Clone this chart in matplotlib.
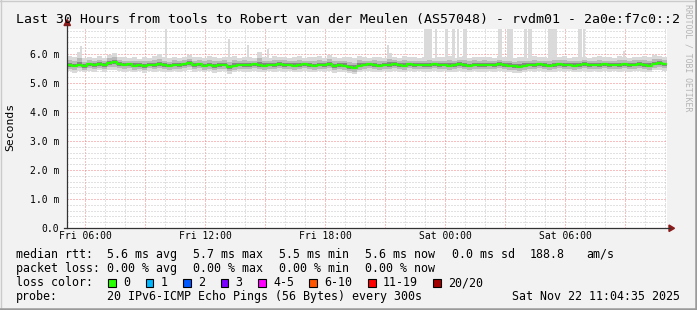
import numpy as np
import pandas as pd
import matplotlib
matplotlib.use("Agg")
import matplotlib.pyplot as plt
import matplotlib.dates as mdates
from matplotlib.ticker import MultipleLocator, FuncFormatter
from matplotlib.lines import Line2D
from matplotlib.patches import Rectangle, Polygon

plt.rcParams['font.family'] = ['DejaVu Sans Mono']
plt.rcParams['lines.scale_dashes'] = False

# ---------------------------------------------------------------
# data (values in ms, one value per 15 minutes over 30 hours)
# ---------------------------------------------------------------
end_time = pd.Timestamp("2025-11-22 11:04:35")
start_time = end_time - pd.Timedelta(hours=30)

median = [
    5.62, 5.60, 5.63, 5.58, 5.64, 5.62, 5.65, 5.61, 5.70, 5.72, 5.66, 5.63,
    5.64, 5.60, 5.62, 5.59, 5.63, 5.61, 5.64, 5.62, 5.60, 5.63, 5.61, 5.64,
    5.68, 5.62, 5.64, 5.60, 5.63, 5.58, 5.61, 5.63, 5.55, 5.60, 5.63, 5.62,
    5.61, 5.64, 5.62, 5.60, 5.63, 5.62, 5.65, 5.61, 5.63, 5.60, 5.62, 5.64,
    5.62, 5.60, 5.63, 5.61, 5.64, 5.58, 5.62, 5.60, 5.55, 5.52, 5.60, 5.63,
    5.64, 5.62, 5.60, 5.63, 5.61, 5.65, 5.62, 5.60, 5.64, 5.62, 5.63, 5.61,
    5.62, 5.64, 5.61, 5.63, 5.60, 5.62, 5.65, 5.62, 5.60, 5.63, 5.61, 5.62,
    5.63, 5.61, 5.64, 5.62, 5.60, 5.58, 5.56, 5.60, 5.63, 5.61, 5.64, 5.62,
    5.60, 5.62, 5.64, 5.61, 5.63, 5.60, 5.62, 5.64, 5.61, 5.63, 5.62, 5.64,
    5.62, 5.63, 5.61, 5.64, 5.62, 5.63, 5.65, 5.62, 5.60, 5.66, 5.68, 5.64,
]

ping_hi = [
    5.92, 5.88, 6.05, 5.85, 5.90, 5.87, 5.93, 5.86, 5.98, 6.02, 5.91, 5.88,
    5.86, 5.90, 5.84, 5.89, 5.87, 5.92, 6.00, 5.88, 5.85, 5.91, 5.87, 5.89,
    5.95, 5.88, 5.90, 5.86, 5.92, 5.89, 5.87, 5.90, 5.88, 5.94, 5.86, 5.91,
    5.89, 5.87, 6.08, 5.90, 5.86, 5.92, 5.88, 5.91, 5.87, 5.89, 5.93, 5.86,
    5.90, 5.88, 5.92, 5.87, 5.95, 5.89, 5.86, 5.90, 5.88, 5.85, 5.92, 5.89,
    5.87, 5.91, 5.88, 5.86, 6.02, 5.90, 5.87, 5.92, 5.88, 5.90, 5.86, 5.89,
    5.91, 5.87, 5.90, 5.88, 5.93, 5.86, 5.89, 5.92, 5.87, 5.90, 5.88, 5.91,
    5.89, 5.86, 5.92, 5.88, 5.90, 5.87, 5.91, 5.89, 5.86, 5.93, 5.88, 5.90,
    5.87, 5.91, 5.89, 5.92, 5.86, 5.90, 5.88, 5.91, 5.87, 5.89, 5.92, 5.88,
    5.90, 5.87, 5.93, 5.89, 5.86, 5.91, 5.88, 5.94, 5.90, 5.96, 5.92, 5.89,
]

ping_lo = [
    5.40, 5.36, 5.42, 5.38, 5.41, 5.39, 5.43, 5.37, 5.44, 5.46, 5.40, 5.38,
    5.41, 5.37, 5.40, 5.36, 5.42, 5.39, 5.41, 5.38, 5.37, 5.40, 5.38, 5.42,
    5.44, 5.39, 5.41, 5.37, 5.40, 5.35, 5.38, 5.41, 5.32, 5.37, 5.40, 5.39,
    5.38, 5.41, 5.39, 5.37, 5.40, 5.39, 5.42, 5.38, 5.40, 5.37, 5.39, 5.41,
    5.39, 5.37, 5.40, 5.38, 5.41, 5.35, 5.39, 5.37, 5.33, 5.30, 5.37, 5.40,
    5.41, 5.39, 5.37, 5.40, 5.38, 5.42, 5.39, 5.37, 5.41, 5.39, 5.40, 5.38,
    5.39, 5.41, 5.38, 5.40, 5.37, 5.39, 5.42, 5.39, 5.37, 5.40, 5.38, 5.39,
    5.40, 5.38, 5.41, 5.39, 5.37, 5.35, 5.34, 5.37, 5.40, 5.38, 5.41, 5.39,
    5.37, 5.39, 5.41, 5.38, 5.40, 5.37, 5.39, 5.41, 5.38, 5.40, 5.39, 5.41,
    5.39, 5.40, 5.38, 5.41, 5.39, 5.40, 5.42, 5.39, 5.37, 5.43, 5.45, 5.41,
]

# occasional slow pings (hours after start, duration in hours, max in ms)
spike_start = [0.65, 4.9, 8.05, 9.0, 10.0, 16.0, 17.85, 18.4, 18.9, 19.25, 19.5,
               19.8, 21.55, 22.0, 22.85, 23.05, 24.05, 25.55, 25.8, 27.8]
spike_len = [0.1, 0.1, 0.1, 0.08, 0.08, 0.1, 0.4, 0.1, 0.15, 0.15, 0.1,
             0.2, 0.2, 0.3, 0.15, 0.2, 0.45, 0.2, 0.1, 0.1]
spike_max = [6.29, 7.5, 6.53, 6.32, 6.18, 6.3, 7.5, 7.5, 7.5, 7.5, 7.5,
             7.5, 7.5, 7.5, 7.5, 7.5, 7.5, 7.5, 7.5, 6.1]

rtt_stats = [("avg", 5.6), ("max", 5.7), ("min", 5.5), ("now", 5.6)]
rtt_sd = 0.0
rtt_ams = 188.8
loss_stats = [("avg", 0.0), ("max", 0.0), ("min", 0.0), ("now", 0.0)]

loss_labels = ["0", "1", "2", "3", "4-5", "6-10", "11-19", "20/20"]
loss_colors = ["#26ff00", "#00b8ff", "#0059ff", "#7a00ff",
               "#ff00ff", "#ff5500", "#ff0000", "#a10000"]

title = "Last 30 Hours from tools to Robert van der Meulen (AS57048) - rvdm01 - 2a0e:f7c0::2"
probe = "20 IPv6-ICMP Echo Pings (56 Bytes) every 300s"
stamp = "Sat Nov 22 11:04:35 2025"

# ---------------------------------------------------------------
W, H = 697, 310
fig = plt.figure(figsize=(W / 100, H / 100), dpi=100, facecolor="#f2f2f2")


def fx(x):
    return x / W


def fy(y):
    return 1 - y / H


ax = fig.add_axes([fx(67), fy(228), 600 / W, 199 / H])
ax.set_facecolor("white")
for s in ax.spines.values():
    s.set_visible(False)

times = pd.date_range(start_time, periods=len(median) + 1, freq="15min")
med = np.append(median, median[-1])
hi = np.append(ping_hi, ping_hi[-1])
lo = np.append(ping_lo, ping_lo[-1])

# slow ping bars
sp_x = [start_time + pd.Timedelta(hours=h) for h in spike_start]
sp_w = [l / 24 for l in spike_len]
ax.bar(sp_x, np.array(spike_max) - 5.8, width=sp_w, bottom=5.8, align="edge",
       color="#dadada", linewidth=0, zorder=2)

# smoke
ax.fill_between(times, lo, hi, step="post", color="#d9d9d9", lw=0, zorder=3)
ax.fill_between(times, med - 0.6 * (med - lo), med + 0.55 * (hi - med), step="post",
                color="#b8b8b8", lw=0, zorder=3)
ax.fill_between(times, med - 0.25 * (med - lo), med + 0.25 * (hi - med), step="post",
                color="#858585", lw=0, zorder=3)
ax.plot(times, med, drawstyle="steps-post", color="#26ff00", lw=1.6, zorder=4)

ax.set_xlim(start_time, end_time)
ax.set_ylim(0, 6.86)

ax.yaxis.set_major_locator(MultipleLocator(1.0))
ax.yaxis.set_minor_locator(MultipleLocator(0.2))
ax.yaxis.set_major_formatter(FuncFormatter(lambda v, p: "0.0" if v == 0 else "%.1f m" % v))
ax.xaxis.set_major_locator(mdates.HourLocator(byhour=range(0, 24, 3)))
ax.xaxis.set_minor_locator(mdates.HourLocator())


def xfmt(v, p):
    d = mdates.num2date(v)
    return d.strftime("%a %H:%M") if d.hour % 6 == 0 else ""


ax.xaxis.set_major_formatter(FuncFormatter(xfmt))

dots = (0, (0.72, 1.44))
ax.grid(which="minor", color="#c4c4c4", linestyle=dots, lw=0.72, zorder=1)
ax.grid(which="major", color="#f08080", linestyle=dots, lw=0.72, zorder=1)
ax.set_axisbelow(True)
ax.tick_params(which="both", length=0, labelsize=7, colors="#000000")
ax.tick_params(axis="y", pad=5.5)
ax.tick_params(axis="x", pad=2.5)

# axes with arrows
fig.add_artist(Line2D([fx(67), fx(67)], [fy(228), fy(25)], color="#333333", lw=0.9))
fig.add_artist(Line2D([fx(64), fx(670)], [fy(228.3), fy(228.3)], color="#333333", lw=0.9))
fig.add_artist(Polygon([(fx(64), fy(25.5)), (fx(70.5), fy(25.5)), (fx(67.2), fy(19.5))],
                       closed=True, color="#8b1a1a", transform=fig.transFigure))
fig.add_artist(Polygon([(fx(669), fy(225)), (fx(669), fy(231.5)), (fx(674.5), fy(228.3))],
                       closed=True, color="#8b1a1a", transform=fig.transFigure))

# frame
fig.add_artist(Line2D([0, 1], [fy(0.5), fy(0.5)], color="#cbcbcb", lw=1))
fig.add_artist(Line2D([fx(0.5), fx(0.5)], [0, 1], color="#cbcbcb", lw=1))
fig.add_artist(Line2D([0, 1], [fy(308.8), fy(308.8)], color="#9a9a9a", lw=1.8))
fig.add_artist(Line2D([fx(695.8), fx(695.8)], [0, 1], color="#9a9a9a", lw=1.8))

# texts
fig.text(fx(347.5), fy(19), title, ha="center", va="center", fontsize=9.5)
fig.text(fx(10), fy(127), "Seconds", rotation=90, ha="center", va="center", fontsize=8.2)
fig.text(fx(688), fy(4), "RRDTOOL / TOBI OETIKER", rotation=270, ha="center", va="top",
         fontsize=5.9, color="#b4b4b4")

fs = 8.4
row_y = [254.3, 268.3, 282.7, 296.7]
fig.text(fx(16), fy(row_y[0]), "median rtt:", va="center", fontsize=fs)
for i, (k, v) in enumerate(rtt_stats):
    fig.text(fx(107.3 + 86 * i), fy(row_y[0]), "%.1f ms %s" % (v, k), va="center", fontsize=fs)
fig.text(fx(451.7), fy(row_y[0]), "%.1f ms sd" % rtt_sd, va="center", fontsize=fs)
fig.text(fx(530), fy(row_y[0]), "%.1f" % rtt_ams, va="center", fontsize=fs)
fig.text(fx(586), fy(row_y[0]), "am/s", va="center", fontsize=fs)

fig.text(fx(16), fy(row_y[1]), "packet loss:", va="center", fontsize=fs)
for i, (k, v) in enumerate(loss_stats):
    fig.text(fx(107.3 + 86 * i), fy(row_y[1]), "%.2f %% %s" % (v, k), va="center", fontsize=fs)

fig.text(fx(16), fy(row_y[2]), "loss color:", va="center", fontsize=fs)
sx = 108.3
for lab, col in zip(loss_labels, loss_colors):
    fig.add_artist(Rectangle((fx(sx), fy(row_y[2] + 3.8)), 7.6 / W, 7.6 / H,
                             transform=fig.transFigure, facecolor=col,
                             edgecolor="black", lw=0.8))
    fig.text(fx(sx + 15), fy(row_y[2]), lab, va="center", fontsize=fs)
    sx += 15 + 7.02 * len(lab) + 15.4

fig.text(fx(16), fy(row_y[3]), "probe:", va="center", fontsize=fs)
fig.text(fx(107.3), fy(row_y[3]), probe, va="center", fontsize=fs)
fig.text(fx(680), fy(row_y[3]), stamp, ha="right", va="center", fontsize=fs)

fig.savefig("out.png", dpi=100, facecolor=fig.get_facecolor())
